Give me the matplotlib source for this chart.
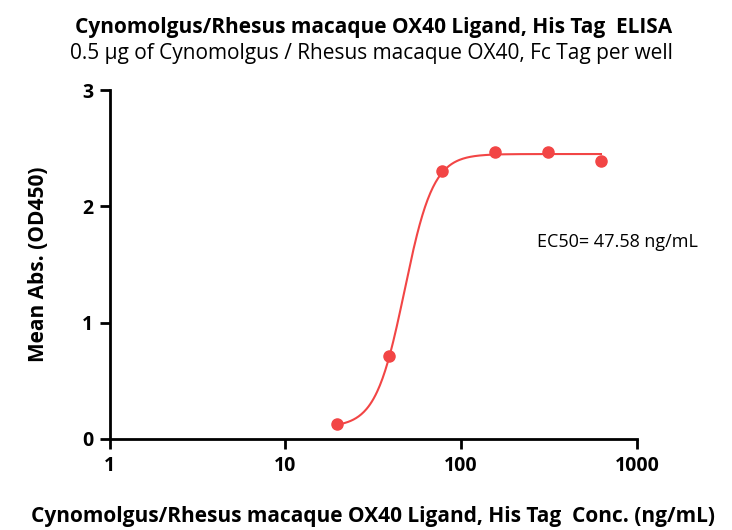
import numpy as np
from matplotlib import pyplot as plt

# measured points (ng/mL, OD450)
conc = [19.53, 39.06, 78.13, 156.25, 312.5, 625.0]
od450 = [0.13, 0.71, 2.30, 2.47, 2.47, 2.39]

# 4PL fit parameters
ec50 = 47.58
bottom, top, hill = 0.10, 2.45, 5.3

title = "Cynomolgus/Rhesus macaque OX40 Ligand, His Tag  ELISA"
subtitle = "0.5 \u00b5g of Cynomolgus / Rhesus macaque OX40, Fc Tag per well"
xlabel = "Cynomolgus/Rhesus macaque OX40 Ligand, His Tag  Conc. (ng/mL)"
ylabel = "Mean Abs. (OD450)"

red = "#f24545"

plt.rcParams["font.family"] = ["Open Sans", "DejaVu Sans"]

fig = plt.figure(figsize=(7.32, 5.30), dpi=100)
ax = fig.add_axes([0.150, 0.172, 0.720, 0.658])

xs = np.logspace(np.log10(conc[0]), np.log10(conc[-1]), 300)
fit = bottom + (top - bottom) / (1 + (ec50 / xs) ** hill)
ax.plot(xs, fit, color=red, lw=1.5, zorder=2)
ax.plot(conc, od450, "o", color=red, ms=8, zorder=3, clip_on=False)

ax.set_xscale("log")
ax.set_xlim(1, 1000)
ax.set_ylim(0, 3)
ax.set_xticks([1, 10, 100, 1000])
ax.set_xticklabels(["1", "10", "100", "1000"])
ax.set_yticks([0, 1, 2, 3])
ax.minorticks_off()
ax.tick_params(axis="both", length=7, width=2, labelsize=14, pad=5)
for lab in ax.get_xticklabels() + ax.get_yticklabels():
    lab.set_fontweight("bold")

for side in ["top", "right"]:
    ax.spines[side].set_visible(False)
for side in ["left", "bottom"]:
    ax.spines[side].set_linewidth(2)

ax.text(270, 1.69, "EC50= 47.58 ng/mL", fontsize=13, va="center", ha="left")

ax.set_ylabel(ylabel, fontsize=15, fontweight="bold", labelpad=24)
fig.text(0.509, 0.025, xlabel, ha="center", va="center", fontsize=15, fontweight="bold")
fig.text(0.510, 0.948, title, ha="center", va="center", fontsize=15, fontweight="bold")
fig.text(0.507, 0.899, subtitle, ha="center", va="center", fontsize=15)

fig.savefig("out.png", dpi=100)
